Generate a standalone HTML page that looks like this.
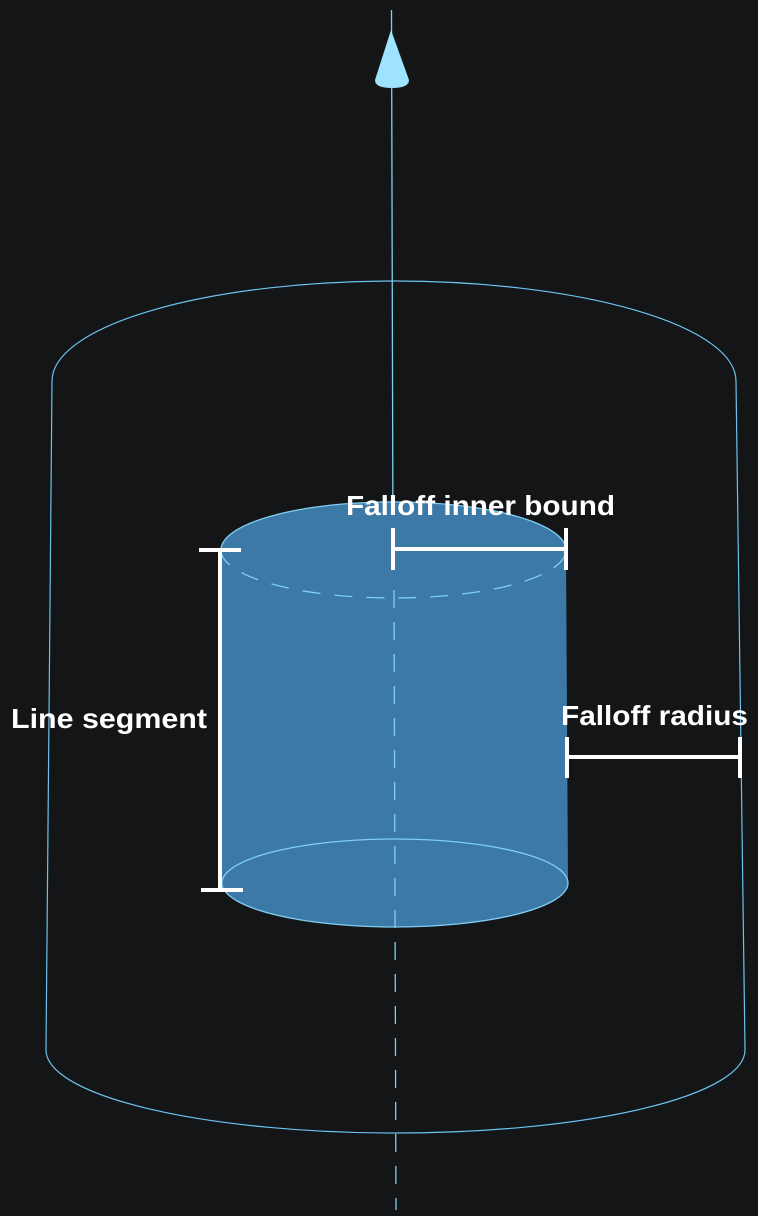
<!DOCTYPE html>
<html><head><style>
html,body{margin:0;padding:0;background:#131517;}
svg{display:block}
text{font-family:"Liberation Sans",sans-serif;font-weight:bold;fill:#fff;font-size:28px}
</style></head><body>
<svg width="758" height="1216" viewBox="0 0 758 1216">
<rect width="758" height="1216" fill="#131517"/>
<path d="M52 381 A342 100 0 0 1 736 381" fill="none" stroke="#6cc3f0" stroke-width="1.2"/>
<line x1="52" y1="381" x2="46" y2="1050" stroke="#6cc3f0" stroke-width="1.2"/>
<line x1="736" y1="381" x2="745" y2="1050" stroke="#6cc3f0" stroke-width="1.2"/>
<path d="M46 1050 A349.5 83 0 0 0 745 1050" fill="none" stroke="#6cc3f0" stroke-width="1.2"/>
<line x1="391.5" y1="10" x2="393" y2="550" stroke="#7fcff5" stroke-width="1.3"/>
<path d="M391 30 L409 80 Q409 88 392 88 Q375 88 375 80 Z" fill="#9ee3ff"/>
<path d="M221 550 A172 48 0 0 1 566 550 L568 883 A173 44 0 0 1 222 883 Z" fill="#3d79a6"/>
<path d="M221 550 A172 48 0 0 1 566 550" fill="none" stroke="#7fcff5" stroke-width="1.3"/>
<path d="M221 550 A172.5 48 0 0 0 566 550" fill="none" stroke="#7fcff5" stroke-width="1.3" stroke-dasharray="18 14"/>
<ellipse cx="395" cy="883" rx="173" ry="44" fill="#3d79a6" stroke="#7fcff5" stroke-width="1.3"/>
<line x1="394" y1="590" x2="396" y2="1210" stroke="#7fcff5" stroke-width="1.3" stroke-dasharray="18 14"/>
<g stroke="#fff" stroke-width="4" fill="none">
<line x1="393" y1="549" x2="566" y2="549"/>
<line x1="393" y1="528" x2="393" y2="570"/>
<line x1="566" y1="528" x2="566" y2="570"/>
<line x1="220" y1="550" x2="220" y2="890"/>
<line x1="199" y1="550" x2="241" y2="550"/>
<line x1="201" y1="890" x2="243" y2="890"/>
<line x1="567" y1="757" x2="740" y2="757"/>
<line x1="567" y1="737" x2="567" y2="778"/>
<line x1="740" y1="737" x2="740" y2="778"/>
</g>
<text x="346" y="515" textLength="269" lengthAdjust="spacingAndGlyphs">Falloff inner bound</text>
<text x="11" y="728" textLength="196" lengthAdjust="spacingAndGlyphs">Line segment</text>
<text x="561" y="725" textLength="187" lengthAdjust="spacingAndGlyphs">Falloff radius</text>
</svg>
</body></html>
